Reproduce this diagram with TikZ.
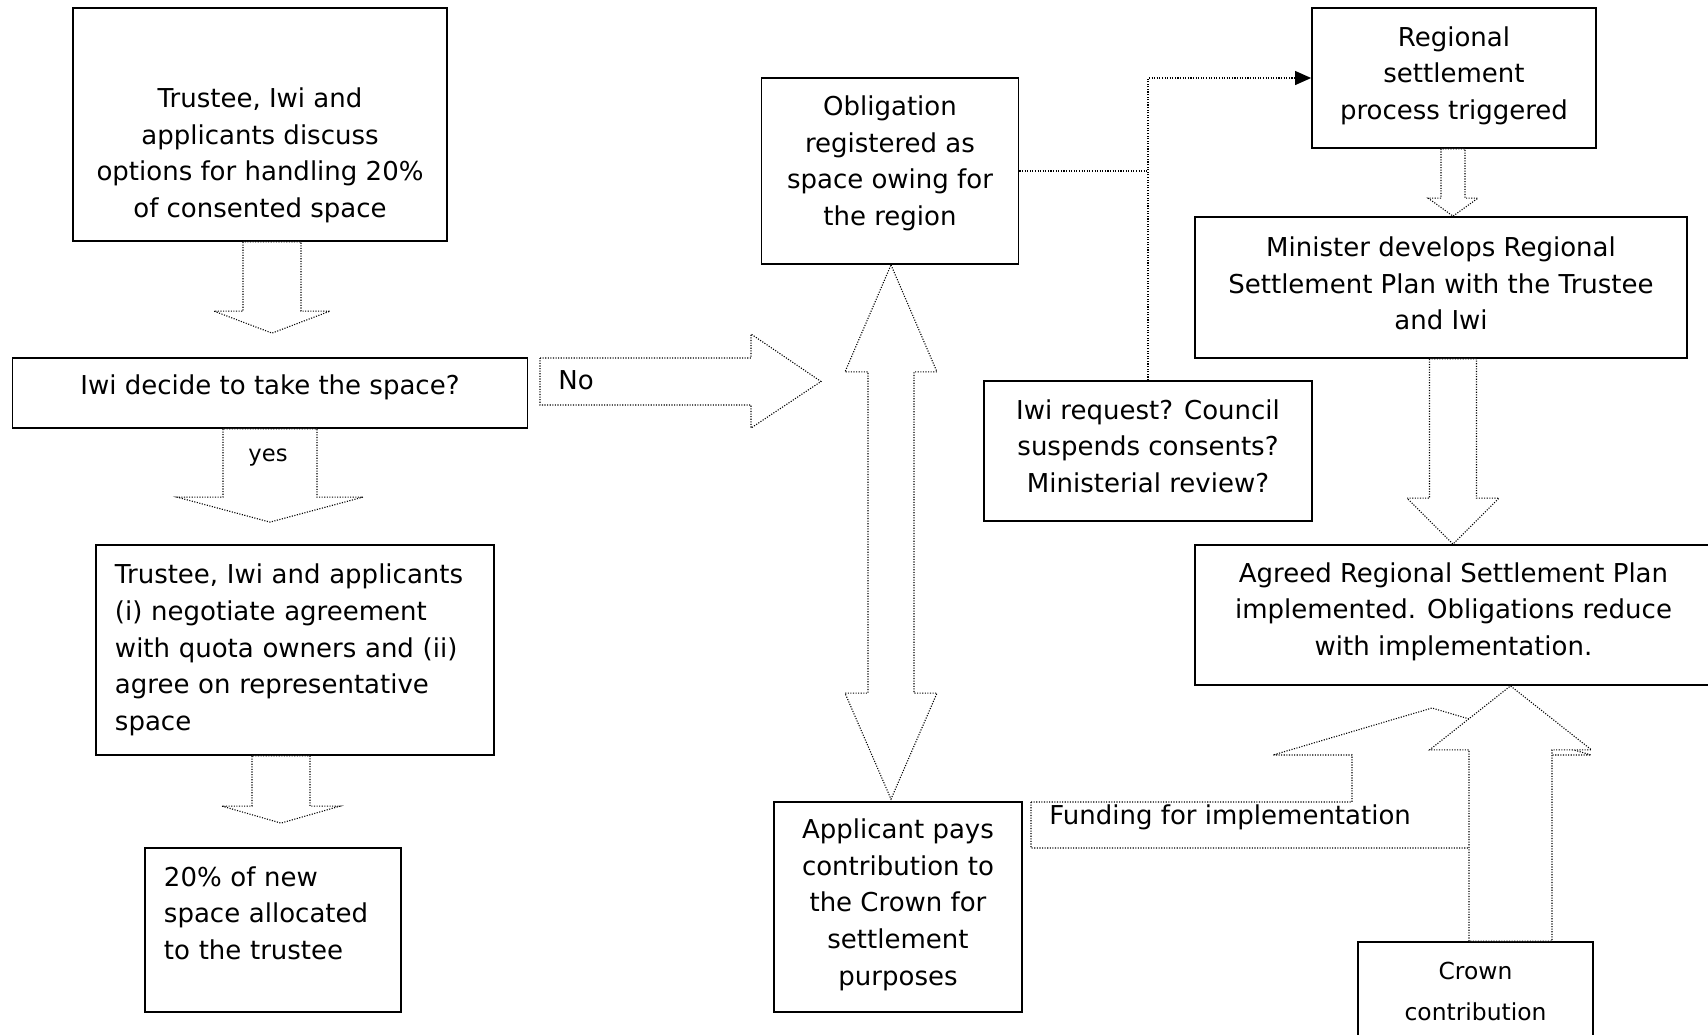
\documentclass[tikz,border=0pt]{standalone}
\usepackage{fontspec}
\setmainfont{DejaVu Sans}
\usetikzlibrary{arrows.meta, positioning, calc}

% vertical block arrow: #1 start, #2 tip, #3 shaft half width, #4 head half width, #5 head length
\newcommand{\downblock}[5]{%
  \draw[blockarrow] ($(#1)+(-#3,0)$) -- ($(#2)+(-#3,-#5)$) -- ($(#2)+(-#4,-#5)$) -- (#2)
    -- ($(#2)+(#4,-#5)$) -- ($(#2)+(#3,-#5)$) -- ($(#1)+(#3,0)$) -- cycle;}

\begin{document}
\begin{tikzpicture}[
    x=0.5bp, y=-0.5bp,
    font=\fontsize{13bp}{18.3bp}\selectfont,
    box/.style={
        rectangle, draw=black, line width=0.9pt, fill=white,
        inner sep=0pt, align=center
    },
    leftbox/.style={box, align=left, inner xsep=9.5bp},
    lift/.style={execute at end node={\rule[-#1]{0pt}{0pt}}},
    blockarrow/.style={draw, fill=white, line width=0.55pt, dash pattern=on 0.55pt off 0.75pt},
    conn/.style={draw, line width=0.55pt, dash pattern=on 0.55pt off 0.75pt},
    note/.style={inner sep=0pt}
]
    \useasboundingbox (0,0) rectangle (1708,1034);

    % Left column
    \node[box, minimum width=187bp, minimum height=116.5bp] (discuss) at (260,124.5)
        {\rule{0pt}{40.5bp}Trustee, Iwi and\\applicants discuss\\options for handling 20\%\\of consented space};
    \node[box, lift=8.4bp, minimum width=257.5bp, minimum height=35bp] (decide) at (270,393)
        {Iwi decide to take the space?};
    \node[leftbox, text width=180bp, minimum height=105bp] (negotiate) at (295,650)
        {Trustee, Iwi and applicants\\(i) negotiate agreement\\with quota owners and (ii)\\agree on representative\\space};
    \node[leftbox, lift=17bp, text width=109bp, minimum height=82bp] (allocated) at (273,930)
        {20\% of new\\space allocated\\to the trustee};

    % Middle column
    \node[box, lift=10.4bp, minimum width=128.5bp, minimum height=93bp] (oblig) at (890,171)
        {Obligation\\registered as\\space owing for\\the region};
    \node[box, lift=5bp, minimum width=124bp, minimum height=105bp] (applicant) at (898,907)
        {Applicant pays\\contribution to\\the Crown for\\settlement\\purposes};
    \node[box, lift=5bp, minimum width=164bp, minimum height=70bp] (iwireq) at (1148,451)
        {Iwi request? Council\\suspends consents?\\Ministerial review?};

    % Right column
    \node[box, lift=5bp, minimum width=142bp, minimum height=70bp] (regional) at (1454,78)
        {Regional\\settlement\\process triggered};
    \node[box, lift=4bp, minimum width=246bp, minimum height=70.5bp] (minister) at (1441,287.5)
        {Minister develops Regional\\Settlement Plan with the Trustee\\and Iwi};
    \node[box, lift=6bp, minimum width=258.5bp, minimum height=70bp] (agreed) at (1453.5,615)
        {Agreed Regional Settlement Plan\\implemented. Obligations reduce\\with implementation.};
    \node[box, font=\fontsize{11.7bp}{20.5bp}\selectfont, minimum width=117.5bp, minimum height=49bp] (crown) at (1475.5,991)
        {Crown\\contribution};

    % Block arrows down the left column
    \coordinate (a1top) at ($(discuss.south)+(12,0)$);
    \coordinate (a1tip) at ($(a1top |- decide.north)+(0,-24)$);
    \downblock{a1top}{a1tip}{29}{58}{22}
    \coordinate (a2top) at (decide.south);
    \coordinate (a2tip) at ($(a2top |- negotiate.north)+(0,-22)$);
    \downblock{a2top}{a2tip}{47}{93}{25}
    \coordinate (a3top) at ($(negotiate.south)+(-14,0)$);
    \coordinate (a3tip) at ($(a3top |- allocated.north)+(0,-24)$);
    \downblock{a3top}{a3tip}{29}{59}{17}

    % Block arrows down the right column
    \coordinate (a4top) at ($(regional.south)+(-1,0)$);
    \coordinate (a4tip) at (a4top |- minister.north);
    \downblock{a4top}{a4tip}{12}{25}{18}
    \coordinate (a5top) at ($(minister.south)+(12,0)$);
    \coordinate (a5tip) at (a5top |- agreed.north);
    \downblock{a5top}{a5tip}{23.5}{46}{46}

    % No arrow
    \draw[blockarrow] (540,358) -- (751,358) -- (751,334) -- (821,381.5)
        -- (751,428) -- (751,405) -- (540,405) -- cycle;

    % Double arrow between obligation and applicant
    \coordinate (dtop) at ($(oblig.south)+(1,0)$);
    \coordinate (dbot) at ($(dtop |- applicant.north)+(0,-2)$);
    \draw[blockarrow] (dtop) -- ++(46,107) -- ++(-23,0) |- ($(dbot)+(23,-106)$)
        -- ++(23,0) -- (dbot) -- ++(-46,-106) -- ++(23,0) |- ($(dtop)+(-23,107)$)
        -- ++(-23,0) -- cycle;

    % Funding arrow, then the Crown arrow over it
    \draw[blockarrow] (1031,802) -- (1352,802) -- (1352,755) -- (1273,755) -- (1432,708)
        -- (1591,755) -- (1512,755) -- (1512,848) -- (1031,848) -- cycle;
    \coordinate (ctop) at ($(crown.north)+(35,0)$);
    \coordinate (ctip) at (ctop |- agreed.south);
    \downblock{ctop}{ctip}{41.5}{81}{-64}

    % Trigger connector
    \path[conn] (oblig.east) -- (oblig.east -| iwireq.north);
    \path[conn, -{Triangle[length=8bp, width=7bp]}] (iwireq.north) |- (regional.west);

    % Labels
    \node[note, font=\fontsize{11.3bp}{14bp}\selectfont, anchor=base] (yes) at (268,461) {yes};
    \node[note, anchor=base west] (no) at (558,389) {No};
    \node[note, anchor=base west] (funding) at (1049,824) {Funding for implementation};
\end{tikzpicture}
\end{document}
